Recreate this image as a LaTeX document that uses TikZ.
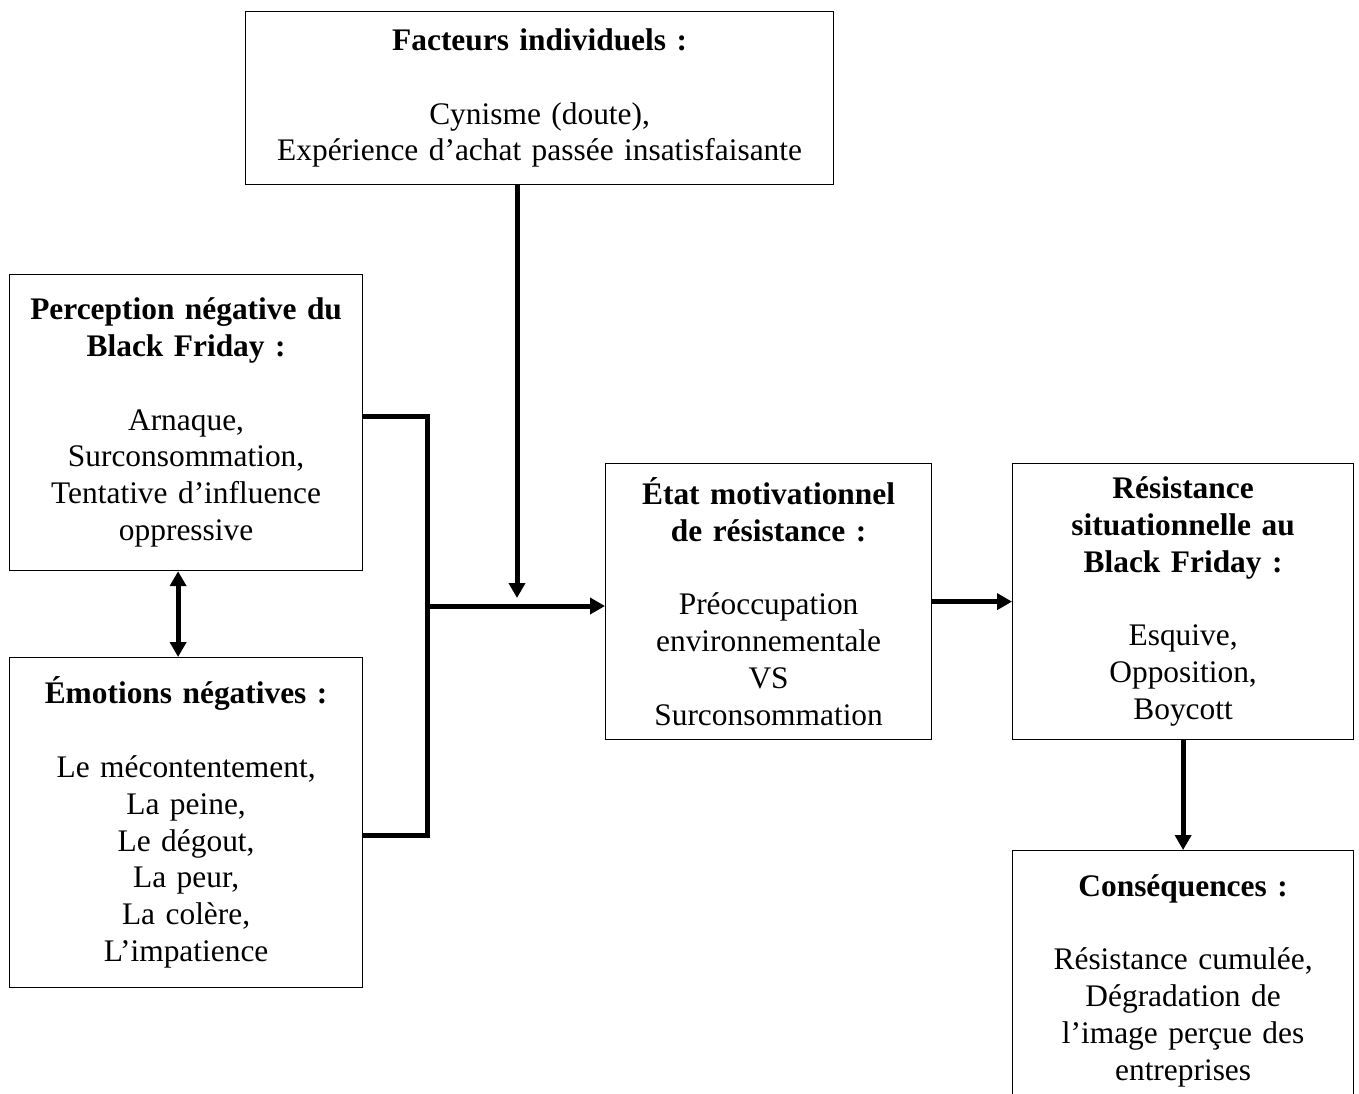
\documentclass[tikz,border=0pt]{standalone}
\usepackage{fontspec}
\setmainfont{Liberation Serif}
\usetikzlibrary{arrows.meta}
\tikzset{
  box/.style={draw, line width=0.6pt, anchor=north west, align=center, inner sep=0pt,
    font=\fontsize{15.7}{18.4}\selectfont},
  link/.style={line width=2.5pt},
  arrow/.style={link, -{Triangle[length=7.5pt,width=8pt]}},
  dblarrow/.style={link, {Triangle[length=7.5pt,width=8pt]}-{Triangle[length=7.5pt,width=8pt]}}
}

\begin{document}
\begin{tikzpicture}[x=0.5pt, y=-0.5pt]
    \useasboundingbox (0,0) rectangle (1359,1093);
    \clip (0,0) rectangle (1359,1093);

    \node[box, text width=294pt, minimum height=86.5pt] (fact) at (245,11)
      {\textbf{Facteurs individuels :}\\[18.4pt] Cynisme (doute),\\ Expérience d’achat passée insatisfaisante};
    \node[box, text width=176.5pt, minimum height=148pt] (perc) at (9,274)
      {\textbf{Perception négative du}\\ \textbf{Black Friday :}\\[18.4pt] Arnaque,\\ Surconsommation,\\ Tentative d’influence\\ oppressive};
    \node[box, text width=176.5pt, minimum height=165pt] (emo) at (9,657)
      {\textbf{Émotions négatives :}\\[18.4pt] Le mécontentement,\\ La peine,\\ Le dégout,\\ La peur,\\ La colère,\\ L’impatience};
    \node[box, text width=163pt, minimum height=138pt] (etat) at (605,463)
      {\textbf{État motivationnel}\\ \textbf{de résistance :}\\[18.4pt] Préoccupation\\ environnementale\\ VS\\ Surconsommation};
    \node[box, text width=170.5pt, minimum height=138pt] (res) at (1012,463)
      {\textbf{Résistance}\\ \textbf{situationnelle au}\\ \textbf{Black Friday :}\\[18.4pt] Esquive,\\ Opposition,\\ Boycott};
    \node[box, text width=170.5pt, minimum height=130pt] (cons) at (1012,850)
      {\textbf{Conséquences :}\\[18.4pt] Résistance cumulée,\\ Dégradation de\\ l’image perçue des\\ entreprises};

    \coordinate (junc) at (427,606);
    \coordinate (drop) at (517,598);

    \draw[link] ([yshift=3pt]perc.east) -| (junc) |- ([yshift=-6.5pt]emo.east);
    \draw[arrow] (junc) -- (etat.west |- junc);
    \draw[arrow] (fact.south -| drop) -- (drop);
    \draw[arrow] (etat.east) -- (res.west);
    \draw[arrow] (res.south) -- (cons.north);
    \draw[dblarrow] ([xshift=-4pt]perc.south) -- ([xshift=-4pt]emo.north);
  \end{tikzpicture}
\end{document}
